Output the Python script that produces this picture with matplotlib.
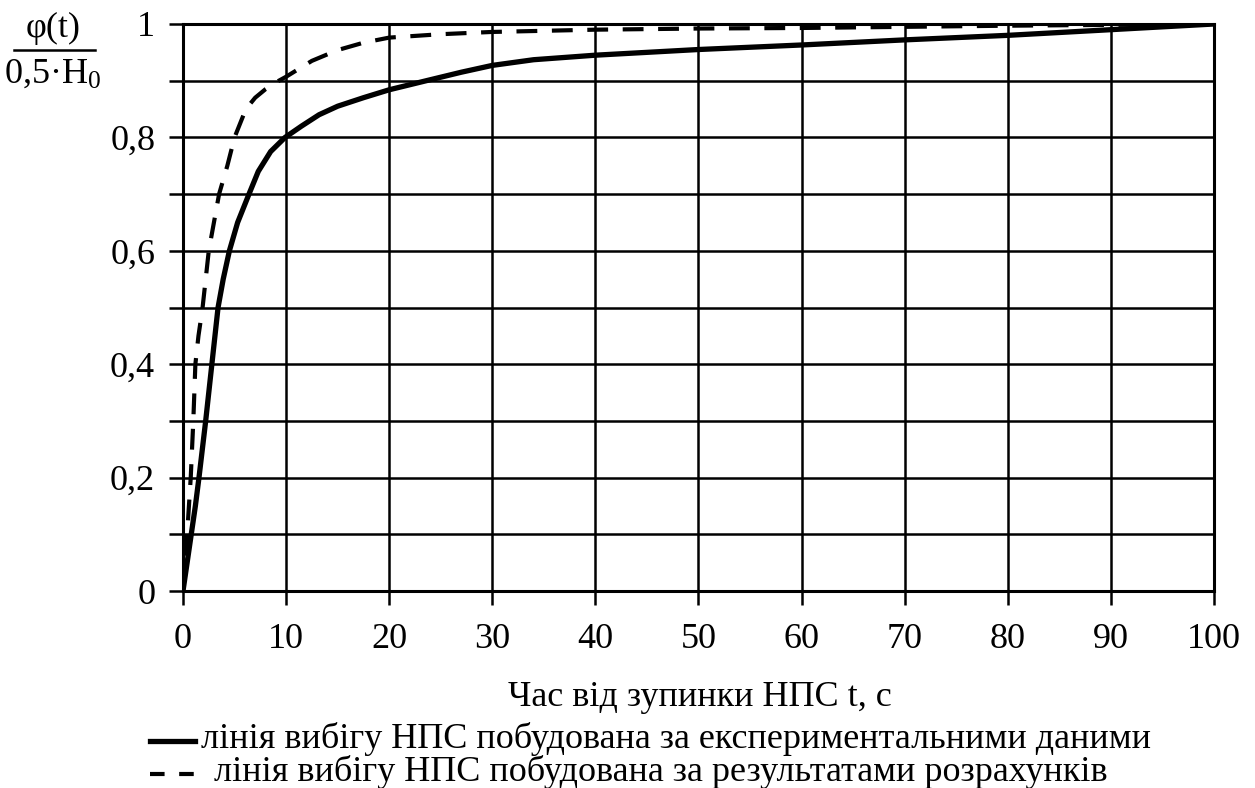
import numpy as np
import matplotlib
matplotlib.use("Agg")
from matplotlib import pyplot as plt
from matplotlib.lines import Line2D

plt.rcParams['font.family'] = ['Liberation Serif', 'DejaVu Serif']
plt.rcParams['mathtext.fontset'] = 'custom'
plt.rcParams['mathtext.rm'] = 'Liberation Serif'
plt.rcParams['mathtext.it'] = 'Liberation Serif:italic'

# experimental run-down curve
t_exp = [0, 0.4, 0.8, 1.2, 1.55, 2.2, 2.8, 3.4, 3.9, 4.5, 5.3, 6.4, 7.3, 8.5, 9.9,
         11.5, 13.2, 15, 17.5, 20, 23.6, 27, 30, 34, 40, 50, 60, 70, 80, 90, 100]
phi_exp = [0, 0.05, 0.1, 0.15, 0.2, 0.3, 0.4, 0.5, 0.55, 0.6, 0.65, 0.7, 0.74, 0.775, 0.8,
           0.82, 0.84, 0.855, 0.87, 0.884, 0.9, 0.915, 0.927, 0.937, 0.945, 0.955, 0.963, 0.972, 0.98, 0.99, 1.0]

# calculated run-down curve
t_calc = [0, 0.4, 0.75, 1.0, 1.2, 1.5, 1.9, 2.5, 3.0, 3.5, 4.3, 5.0, 6.1, 7.0, 8.0, 9.3,
          10, 12.5, 15, 17.5, 20, 25, 30, 40, 50, 60, 80, 100]
phi_calc = [0, 0.1, 0.2, 0.3, 0.4, 0.45, 0.5, 0.6, 0.65, 0.7, 0.75, 0.8, 0.85, 0.87, 0.885, 0.9,
            0.907, 0.935, 0.954, 0.967, 0.976, 0.982, 0.986, 0.99, 0.992, 0.993, 0.997, 1.0]

x_ticks = np.arange(0, 101, 10)
y_grid = np.round(np.arange(0, 1.01, 0.1), 1)
y_labels = []
for v in y_grid:
    if round(v * 10) % 2:
        y_labels.append('')
    elif v in (0, 1):
        y_labels.append('%d' % v)
    else:
        y_labels.append(('%.1f' % v).replace('.', ','))

FS = 26

fig = plt.figure(figsize=(12.55, 7.88), dpi=100)
ax = fig.add_axes([183 / 1255, 1 - 591 / 788, (1214 - 183) / 1255, (591 - 24) / 788])

ax.plot(t_exp, phi_exp, color='black', lw=3.8, solid_joinstyle='round', zorder=3)
ax.plot(t_calc, phi_calc, color='black', lw=3.0, dashes=(5, 3.5), zorder=3)

ax.set_xlim(0, 100)
ax.set_ylim(0, 1)
ax.set_xticks(x_ticks)
ax.set_xticklabels([str(v) for v in x_ticks])
ax.set_yticks(y_grid)
ax.set_yticklabels(y_labels)
ax.grid(True, color='black', lw=1.8)
ax.tick_params(direction='out', length=10, width=1.8, labelsize=FS, colors='black')
ax.tick_params(axis='x', pad=13)
ax.tick_params(axis='y', pad=10)
for s in ax.spines.values():
    s.set_linewidth(2.2)

# y axis caption as a fraction
fig.text(53 / 1255, 1 - 28 / 788, 'φ(t)', fontsize=FS, ha='center', va='center')
fig.add_artist(Line2D([14 / 1255, 95 / 1255], [1 - 50 / 788, 1 - 50 / 788], color='black', lw=1.8))
fig.text(53 / 1255, 1 - 74 / 788, r'0,5·H$_0$', fontsize=FS, ha='center', va='center')

fig.text(700 / 1255, 1 - 697 / 788, 'Час від зупинки НПС t, с', fontsize=FS, ha='center', va='center')

fig.add_artist(Line2D([150 / 1255, 195 / 1255], [1 - 741 / 788] * 2, color='black', lw=3.8))
fig.text(201 / 1255, 1 - 739 / 788, 'лінія вибігу НПС побудована за експериментальними даними',
         fontsize=FS, ha='left', va='center')
fig.add_artist(Line2D([150 / 1255, 196 / 1255], [1 - 774 / 788] * 2, color='black', lw=3.0, dashes=(3.5, 3.5)))
fig.text(214 / 1255, 1 - 772 / 788, 'лінія вибігу НПС побудована за результатами розрахунків',
         fontsize=FS, ha='left', va='center')

fig.savefig('out.png', dpi=100, facecolor='white')
